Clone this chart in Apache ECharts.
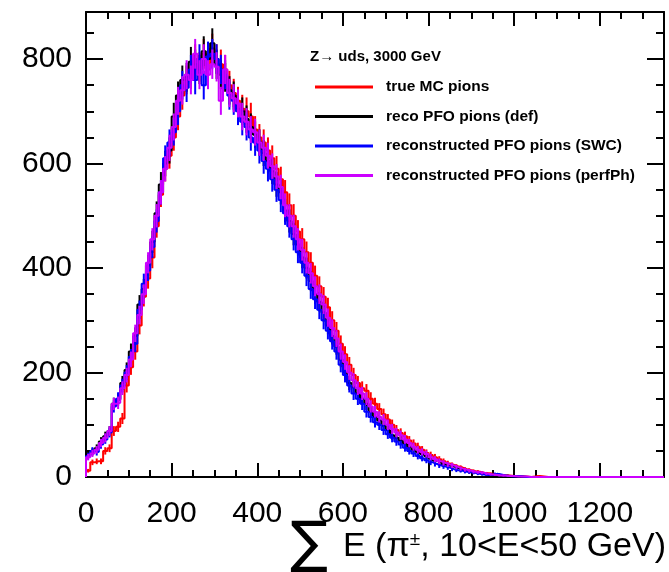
<!DOCTYPE html>
<html><head><meta charset="utf-8">
<script src="https://cdn.jsdelivr.net/npm/echarts@6.0.0/dist/echarts.min.js"></script>
<style>html,body{margin:0;padding:0;background:#fff}#c{width:669px;height:572px}</style>
</head><body><div id="c"></div>
<script>
// ---- data ----
const binWidth = 10;
const xMin = 0, xMax = 1350, yMin = 0, yMax = 890;
const seriesNames = ['true MC pions', 'reco PFO pions (def)', 'reconstructed PFO pions (SWC)', 'reconstructed PFO pions (perfPh)'];
const seriesColors = ['#ff0000', '#000000', '#0000ff', '#cc00ff'];
const trueMC = [
12,28,30,30,50,55,88,96,112,175,
210,240,290,345,380,420,480,540,590,615,
650,690,730,760,770,800,785,810,780,820,
800,790,780,750,735,720,705,700,690,665,
650,640,625,610,590,570,545,520,500,470,
455,430,410,385,365,345,325,300,280,255,
235,215,195,180,170,165,150,140,130,120,
110,100,90,84,78,70,64,58,52,46,
42,38,34,30,26,23,20,18,15,13,
11,10,8,7,6,5,4,3,3,2,
2,1,1,0,1,2,1,0,0,0,
0,0,0,0,0,0,0,0,0,0,
0,0,0,0,0,0,0,0,0,0,
0,0,0,0,0];
const recoDef = [
45,48,55,68,78,88,140,148,180,205,
240,270,330,360,405,450,505,560,600,625,
690,730,760,765,795,790,780,815,800,830,
790,770,765,740,730,705,700,685,670,655,
640,620,605,585,560,545,510,490,465,445,
420,400,375,350,335,315,290,270,250,225,
200,180,172,160,150,140,125,115,108,98,
90,80,75,70,64,58,52,48,44,40,
35,31,28,24,22,20,17,14,12,10,
9,8,6,5,5,4,3,3,2,2,
1,1,0,0,0,0,0,0,0,0,
0,0,0,0,0,0,0,0,0,0,
0,0,0,0,0,0,0,0,0,0,
0,0,0,0,0];
const recoSWC = [
40,50,48,62,72,85,135,150,175,200,
230,255,320,370,395,440,490,545,610,640,
660,700,750,745,780,760,800,750,805,810,
800,780,770,730,720,700,680,670,650,640,
625,605,590,570,550,530,505,480,455,430,
410,385,360,340,320,300,280,260,240,215,
195,175,160,150,140,125,115,105,100,90,
82,75,68,62,56,50,45,40,36,32,
28,25,22,20,18,15,13,12,10,9,
8,6,5,4,4,6,5,3,2,1,
2,1,0,0,0,0,0,0,0,0,
0,0,0,0,0,0,0,0,0,0,
0,0,0,0,0,0,0,0,0,0,
0,0,0,0,0];
const recoPerfPh = [
38,45,52,65,75,88,140,142,170,195,
225,275,310,350,410,455,500,545,590,630,
670,720,740,770,760,810,770,800,770,790,
785,720,780,735,725,715,690,680,665,660,
640,630,615,595,575,555,520,500,480,455,
435,410,390,365,350,330,305,285,265,240,
220,200,185,170,160,150,135,125,115,110,
100,92,85,80,72,65,58,52,48,44,
38,34,30,27,24,22,19,16,14,12,
10,9,8,6,5,4,3,3,2,2,
1,1,1,0,0,0,0,0,0,0,
0,0,0,0,0,0,0,0,0,0,
0,0,0,0,0,0,0,0,0,0,
0,0,0,0,0];
const allValues = [trueMC, recoDef, recoSWC, recoPerfPh];
const xTickMajor = 200, xTickMinor = 50, yTickMajor = 200, yTickMinor = 50;

// ---- build ----
const FONT = "'Liberation Sans', Arial, Helvetica, sans-serif";
function stepData(vals) {
  const d = [[xMin, 0]];
  vals.forEach((v, i) => d.push([xMin + i * binWidth, v]));
  d.push([xMin + vals.length * binWidth, vals[vals.length - 1]]);
  d.push([xMin + vals.length * binWidth, 0]);
  return d;
}
function errData(vals) {
  const d = [];
  vals.forEach((v, i) => { if (v > 0) d.push([xMin + (i + 0.5) * binWidth, v, Math.sqrt(v)]); });
  return d;
}
const series = [];
allValues.forEach((vals, k) => {
  series.push({
    name: seriesNames[k], type: 'line', step: 'end', data: stepData(vals),
    showSymbol: false, symbol: 'none', clip: true,
    lineStyle: { color: seriesColors[k], width: 2 }, itemStyle: { color: seriesColors[k] },
    xAxisIndex: 0, yAxisIndex: 0, z: 2 + k
  });
  series.push({
    type: 'custom', data: errData(vals), xAxisIndex: 0, yAxisIndex: 0, z: 2 + k, clip: true,
    renderItem: function (params, api) {
      const x = api.value(0), v = api.value(1), e = api.value(2);
      const p1 = api.coord([x, Math.max(0, v - e)]);
      const p2 = api.coord([x, v + e]);
      return { type: 'line', shape: { x1: p1[0], y1: p1[1], x2: p2[0], y2: p2[1] },
               style: { stroke: seriesColors[k], lineWidth: 2 } };
    }
  });
});
const axLine = { show: true, onZero: false, lineStyle: { color: '#000', width: 2 } };
const plainNum = v => String(v);
function xAx(pos, interval, len, labels) {
  return { type: 'value', min: xMin, max: xMax, interval: interval, position: pos,
    axisLine: labels === null ? { show: false, onZero: false } : axLine,
    axisTick: { show: true, inside: true, length: len, lineStyle: { color: '#000', width: 2 } },
    axisLabel: labels ? { show: true, color: '#000', fontFamily: FONT, fontSize: 30, margin: 22, showMaxLabel: false, showMinLabel: true, formatter: plainNum } : { show: false },
    splitLine: { show: false } };
}
function yAx(pos, interval, len, labels) {
  return { type: 'value', min: yMin, max: yMax, interval: interval, position: pos,
    axisLine: labels === null ? { show: false, onZero: false } : axLine,
    axisTick: { show: true, inside: true, length: len, lineStyle: { color: '#000', width: 2 } },
    axisLabel: labels ? { show: true, color: '#000', fontFamily: FONT, fontSize: 30, margin: 14, showMaxLabel: false, formatter: plainNum } : { show: false },
    splitLine: { show: false } };
}
const chart = echarts.init(document.getElementById('c'), null, { renderer: 'canvas' });
chart.setOption({
  animation: false,
  backgroundColor: '#fff',
  grid: { left: 86, top: 12, right: 5, bottom: 95, containLabel: false },
  xAxis: [xAx('bottom', xTickMajor, 14, true), xAx('bottom', xTickMinor, 7, null),
          xAx('top', xTickMajor, 14, false), xAx('top', xTickMinor, 7, null)],
  yAxis: [yAx('left', yTickMajor, 17, true), yAx('left', yTickMinor, 8, null),
          yAx('right', yTickMajor, 17, false), yAx('right', yTickMinor, 8, null)],
  legend: {
    data: seriesNames, orient: 'vertical', left: 315, top: 79, padding: 0,
    icon: 'rect', itemWidth: 58, itemHeight: 3, itemGap: 13.5,
    textStyle: { color: '#000', fontFamily: FONT, fontWeight: 'bold', fontSize: 15.5, lineHeight: 16, padding: [0, 0, 0, 8] },
    selectedMode: false
  },
  graphic: [
    { type: 'text', x: 310, y: 57, style: { text: 'Z\u2192 uds, 3000 GeV', fill: '#000', font: "bold 15px " + FONT, align: 'left', verticalAlign: 'middle' } },
    { type: 'text', x: 290, y: 574, style: { text: '\u2211', fill: '#000', font: "56px 'DejaVu Sans'", align: 'left', verticalAlign: 'bottom' } },
    { type: 'text', x: 666, y: 564, style: {
        text: '{a|E (\u03c0}{s|\u00b1}{a|, 10<E<50 GeV)}', fill: '#000', align: 'right', verticalAlign: 'bottom',
        rich: { a: { fontFamily: FONT, fontSize: 34, fill: '#000', verticalAlign: 'bottom' },
                s: { fontFamily: FONT, fontSize: 19, fill: '#000', verticalAlign: 'top' } } } }
  ],
  series: series
});
</script></body></html>
